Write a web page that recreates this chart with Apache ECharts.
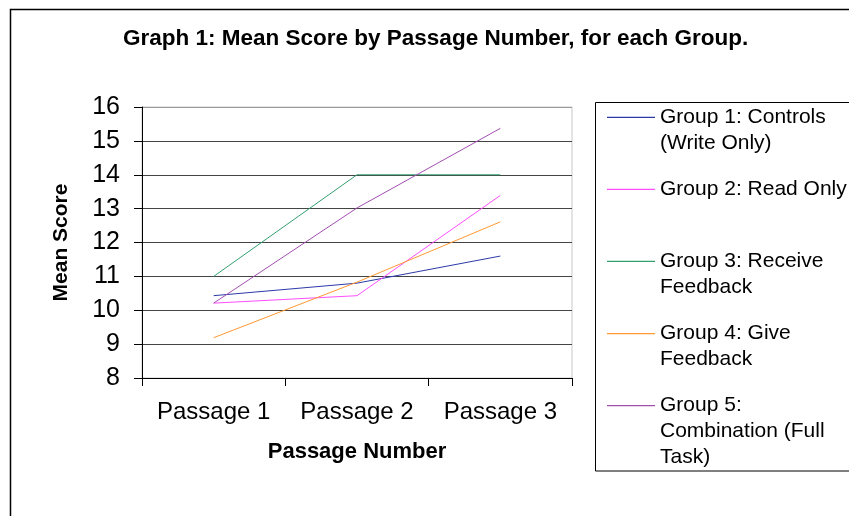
<!DOCTYPE html>
<html>
<head>
<meta charset="utf-8">
<script src="https://cdn.jsdelivr.net/npm/echarts@6/dist/echarts.min.js"></script>
<style>html,body{margin:0;padding:0;background:#fff;}#c{width:849px;height:516px;}</style>
</head>
<body>
<div id="c"></div>
<script>
const titleText = 'Graph 1: Mean Score by Passage Number, for each Group.';
const categories = ['Passage 1', 'Passage 2', 'Passage 3'];
const groupNames = [
  'Group 1: Controls\n(Write Only)',
  'Group 2: Read Only',
  'Group 3: Receive\nFeedback',
  'Group 4: Give\nFeedback',
  'Group 5:\nCombination (Full\nTask)'
];
const group1 = [10.43, 10.8, 11.6];
const group2 = [10.21, 10.43, 13.39];
const group3 = [11.0, 14.0, 14.0];
const group4 = [9.19, 10.83, 12.61];
const group5 = [10.21, 13.02, 15.37];
const yTicks = [8, 9, 10, 11, 12, 13, 14, 15, 16];

const seriesValues = [group1, group2, group3, group4, group5];
const colors = ['#2b3aa8', '#ff4dff', '#33a070', '#ff9933', '#a24fb0'];
const FONT = '"Liberation Sans", Arial, sans-serif';

const LH = 26;
const iconY = [117.3, 189.3, 261.3, 333.7, 405.7];
const legends = groupNames.map((name, i) => {
  const n = name.split('\n').length;
  return {
    orient: 'vertical',
    left: 607,
    top: iconY[i] - (2 * n - 1) * LH / 2,
    padding: 0,
    icon: 'rect',
    itemWidth: 48,
    itemHeight: 1.2,
    itemGap: 0,
    data: [name],
    formatter: (nm) => '\n'.repeat(n - 1) + nm,
    textStyle: {fontFamily: FONT, fontSize: 21, color: '#000', lineHeight: LH}
  };
});

const chart = echarts.init(document.getElementById('c'), null, {renderer: 'canvas'});
chart.setOption({
  animation: false,
  backgroundColor: '#fff',
  color: colors,
  title: {
    text: titleText,
    left: 123,
    top: 27,
    padding: 0,
    textStyle: {fontFamily: FONT, fontSize: 22.5, fontWeight: 'bold', color: '#000'}
  },
  legend: legends,
  graphic: [
    {type: 'rect', shape: {x: 10.5, y: 9.5, width: 900, height: 600}, style: {fill: null, stroke: '#000', lineWidth: 1.5}, silent: true, z: -1},
    {type: 'rect', shape: {x: 595.5, y: 102.5, width: 300, height: 368.5}, style: {fill: '#fff', stroke: '#000', lineWidth: 1}, silent: true, z: -1}
  ],
  grid: {
    left: 142, top: 107, right: 277, bottom: 138,
    show: true, borderColor: '#c8c8c8', borderWidth: 1, backgroundColor: '#fff'
  },
  xAxis: {
    type: 'category',
    data: categories,
    boundaryGap: true,
    name: 'Passage Number',
    nameLocation: 'middle',
    nameGap: 63,
    nameTextStyle: {fontFamily: FONT, fontSize: 22, fontWeight: 'bold', color: '#000'},
    axisLine: {lineStyle: {color: '#000', width: 1}},
    axisTick: {show: true, length: 8, lineStyle: {color: '#000'}},
    axisLabel: {fontFamily: FONT, fontSize: 24, color: '#000', margin: 22, interval: 0, hideOverlap: false},
    splitLine: {show: false}
  },
  yAxis: {
    type: 'value',
    min: yTicks[0],
    max: yTicks[yTicks.length - 1],
    interval: 1,
    name: 'Mean Score',
    nameLocation: 'middle',
    nameGap: 70,
    nameTextStyle: {fontFamily: FONT, fontSize: 21, fontWeight: 'bold', color: '#000'},
    axisLine: {show: true, lineStyle: {color: '#000', width: 1}},
    axisTick: {show: true, length: 8, lineStyle: {color: '#000'}},
    axisLabel: {fontFamily: FONT, fontSize: 25, color: '#000', margin: 22},
    splitLine: {show: true, lineStyle: {color: ['#444', '#444', '#444', '#444', '#444', '#444', '#444', '#444', '#9a9a9a'], width: 1}}
  },
  series: groupNames.map((name, i) => ({
    name: name,
    type: 'line',
    data: seriesValues[i],
    symbol: 'none',
    lineStyle: {width: 1, color: colors[i]},
    itemStyle: {color: colors[i]}
  }))
});
</script>
</body>
</html>
